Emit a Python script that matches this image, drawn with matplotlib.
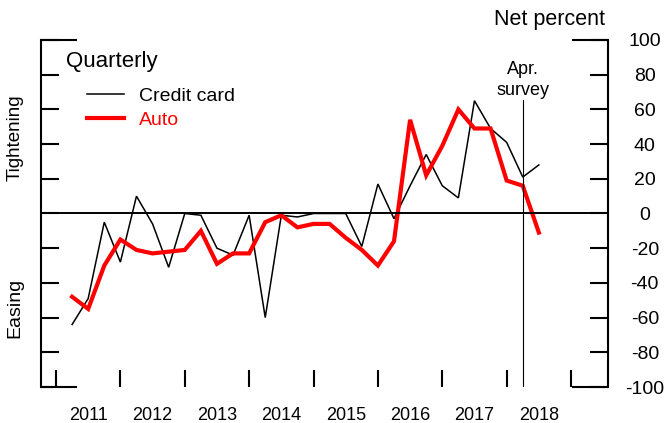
import matplotlib
matplotlib.use("Agg")
import matplotlib.pyplot as plt
from matplotlib.lines import Line2D
from matplotlib.ticker import FixedLocator, NullFormatter, FixedFormatter

plt.rcParams['font.family'] = ['Liberation Sans', 'DejaVu Sans']
plt.rcParams['axes.unicode_minus'] = False

# Quarterly net percent of banks tightening standards
quarters = [2011.25 + 0.25 * i for i in range(30)]
credit_card = [-64, -49, -5, -28, 10, -6, -31, 0, -1, -20,
               -24, -1, -60, -1, -2, 0, 0, 0, -19, 17,
               -3, 16, 34, 16, 9, 65, 49, 41, 21, 28]
auto = [-48, -55, -30, -15, -21, -23, -22, -21, -10, -29,
        -23, -23, -5, -1, -8, -6, -6, -14, -21, -30,
        -16, 54, 22, 39, 60, 49, 49, 19, 16, -11]

years = list(range(2011, 2020))
year_labels = [str(y) for y in range(2011, 2019)]
y_ticks = list(range(-100, 101, 20))
survey_x = 2018.25

fig = plt.figure(figsize=(6.67, 4.23), dpi=100)
ax = fig.add_axes([41 / 667, 1 - 387 / 423, (608 - 41) / 667, (387 - 40) / 423])

ax.plot(quarters, credit_card, color='black', lw=1.1, solid_joinstyle='miter')
ax.plot(quarters, auto, color='#ff0000', lw=3.0, solid_joinstyle='miter')
ax.axhline(0, color='black', lw=1.4)
ax.axvline(survey_x, ymin=0, ymax=0.827, color='black', lw=0.8)

ax.set_xlim(2010.767, 2019.574)
ax.set_ylim(-100, 100)

for side in ('top', 'bottom'):
    ax.spines[side].set_visible(False)
for side in ('left', 'right'):
    ax.spines[side].set_linewidth(1.5)

# y axis: short inward ticks, long ones at the ends, labels on the right
ax.yaxis.remove_overlapping_locs = False
ax.yaxis.set_major_locator(FixedLocator(y_ticks))
ax.yaxis.set_minor_locator(FixedLocator([-100, 100]))
ax.yaxis.set_minor_formatter(NullFormatter())
ax.tick_params(axis='y', which='major', direction='in', length=13, width=1.5,
               left=True, right=True, labelleft=False, labelright=True,
               labelsize=14, pad=26.5)
ax.tick_params(axis='y', which='minor', direction='in', length=26, width=1.5,
               left=True, right=True, labelleft=False, labelright=False)
for t in ax.yaxis.get_major_ticks():
    t.label2.set_horizontalalignment('center')

# x axis: year boundaries as ticks, year names centred between them
ax.xaxis.remove_overlapping_locs = False
ax.xaxis.set_major_locator(FixedLocator(years))
ax.xaxis.set_major_formatter(NullFormatter())
ax.xaxis.set_minor_locator(FixedLocator([y + 0.5 for y in range(2011, 2019)]))
ax.xaxis.set_minor_formatter(FixedFormatter(year_labels))
ax.tick_params(axis='x', which='major', direction='in', length=12.5, width=1.5,
               bottom=True, top=False)
ax.tick_params(axis='x', which='minor', length=0, labelsize=13, pad=14.5)

# annotations
ax.text(survey_x, 0.885, 'Apr.\nsurvey', transform=ax.get_xaxis_transform(),
        ha='center', va='center', fontsize=13, linespacing=1.35)
fig.text(549 / 667, 1 - 20 / 423, 'Net percent', ha='center', va='center', fontsize=15.5)
fig.text(15 / 667, 1 - 138 / 423, 'Tightening', rotation=90, ha='center', va='center', fontsize=13.5)
fig.text(15 / 667, 1 - 308 / 423, 'Easing', rotation=90, ha='center', va='center', fontsize=14)
fig.text(66 / 667, 1 - 62 / 423, 'Quarterly', ha='left', va='center', fontsize=16)

handles = [Line2D([], [], color='black', lw=1.1), Line2D([], [], color='#ff0000', lw=3.0)]
ax.legend(handles, ['Credit card', 'Auto'], loc='upper left',
          bbox_to_anchor=(71 / 667, 1 - 72 / 423), bbox_transform=fig.transFigure,
          frameon=False, fontsize=14, handlelength=1.9, handletextpad=0.8,
          labelspacing=0.3, borderpad=0.3, labelcolor=['black', '#ff0000'])

fig.savefig('out.png', dpi=100)
